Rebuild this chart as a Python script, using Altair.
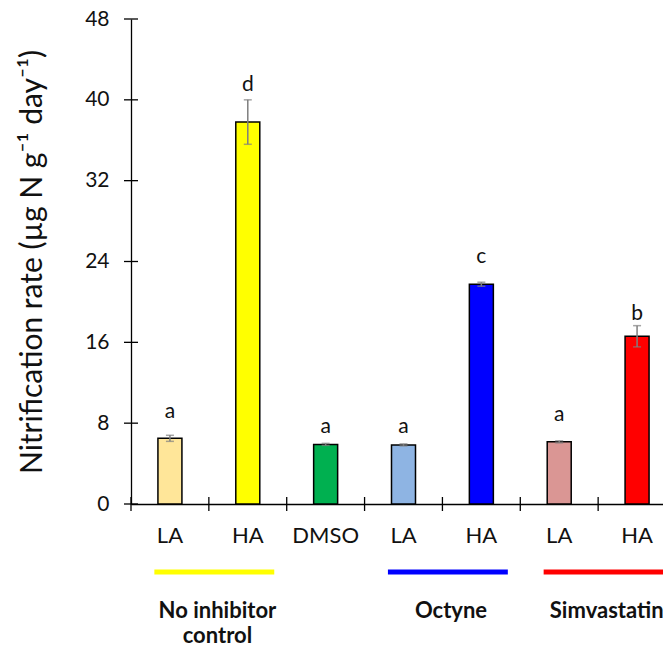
import altair as alt
import pandas as pd

# ---- data ----
categories = ["1 LA", "2 HA", "3 DMSO", "4 LA", "5 HA", "6 LA", "7 HA"]
means = [6.5, 37.8, 5.9, 5.85, 21.75, 6.15, 16.6]
errors = [0.3, 2.2, 0.1, 0.1, 0.2, 0.1, 1.05]
letters = ["a", "d", "a", "a", "c", "a", "b"]
letter_pos = [9.1, 41.5, 7.65, 7.65, 24.4, 8.8, 18.8]
bar_colors = ["#FFE699", "#FFFF00", "#00B050", "#8EB4E3", "#0000FF", "#DA9694", "#FF0000"]

groups = ["No inhibitor\ncontrol", "Octyne", "Simvastatin"]
group_start = ["1 LA", "4 LA", "6 LA"]
group_end = ["2 HA", "5 HA", "7 HA"]
group_colors = ["#FFFF00", "#0000FF", "#FF0000"]

y_ticks = [0, 8, 16, 24, 32, 40, 48]

# ---- tables ----
df = pd.DataFrame({
    "cat": categories,
    "mean": means,
    "lo": [m - e for m, e in zip(means, errors)],
    "hi": [m + e for m, e in zip(means, errors)],
    "letter": letters,
    "lpos": letter_pos,
})
gdf = pd.DataFrame({"group": groups, "start": group_start, "end": group_end, "gcolor": group_colors})
tdf = pd.DataFrame({"v": y_ticks})

FONT = "Lato"
W, H = 532, 485

xscale = alt.Scale(domain=categories, range=[0, 545], paddingInner=0, paddingOuter=0)
yscale = alt.Scale(domain=[0, 48], nice=False, zero=True)

x_axis = alt.Axis(
    title=None, labelExpr="substring(datum.value, 2)", labelAngle=0,
    ticks=False, tickSize=0, labelPadding=21, labelFontSize=22, labelFont=FONT,
    labelColor="#111", domainColor="#000", domainWidth=1.3, grid=False,
)
y_axis = alt.Axis(
    values=y_ticks, ticks=False, tickSize=0, labelPadding=22, labelFontSize=21,
    labelFont=FONT, labelColor="#111", domainColor="#000", domainWidth=1.3, grid=False,
    title="Nitrification rate (µg N g⁻¹ day⁻¹)", titleFont=FONT, titleFontSize=30,
    titleFontWeight="normal", titleColor="#111", titleAngle=-90, titleX=-99, titleY=H / 2,
    titleBaseline="middle", titleAlign="center",
)

x_enc = alt.X("cat:N", scale=xscale, axis=x_axis)
base = alt.Chart(df)

bars = base.mark_bar(size=24, stroke="black", strokeWidth=1.5).encode(
    x=x_enc,
    y=alt.Y("mean:Q", scale=yscale, axis=y_axis),
    fill=alt.Color("cat:N", scale=alt.Scale(domain=categories, range=bar_colors), legend=None),
)
err = base.mark_rule(color="#7f7f7f", strokeWidth=1.5).encode(
    x=x_enc, y=alt.Y("lo:Q", scale=yscale, axis=y_axis), y2="hi:Q"
)
cap_lo = base.mark_tick(size=8, thickness=1.5, color="#7f7f7f").encode(
    x=x_enc, y=alt.Y("lo:Q", scale=yscale, axis=y_axis)
)
cap_hi = base.mark_tick(size=8, thickness=1.5, color="#7f7f7f").encode(
    x=x_enc, y=alt.Y("hi:Q", scale=yscale, axis=y_axis)
)
lett = base.mark_text(font=FONT, fontSize=21, color="#111", baseline="middle").encode(
    x=x_enc, y=alt.Y("lpos:Q", scale=yscale, axis=y_axis), text="letter:N"
)
# crossing ticks
xticks = base.mark_rule(color="black", strokeWidth=1.3).encode(
    x=alt.X("cat:N", scale=xscale, axis=x_axis, bandPosition=0),
    y=alt.value(H - 7), y2=alt.value(H + 7),
)
yticks = alt.Chart(tdf).mark_rule(color="black", strokeWidth=1.3).encode(
    y=alt.Y("v:Q", scale=yscale, axis=y_axis), x=alt.value(-7), x2=alt.value(7)
)
glines = alt.Chart(gdf).mark_rule(strokeWidth=5).encode(
    x=alt.X("start:N", scale=xscale, axis=x_axis, bandPosition=0.3),
    x2=alt.X2("end:N", bandPosition=0.84),
    y=alt.value(553),
    color=alt.Color("gcolor:N", scale=None, legend=None),
)
gtext = alt.Chart(gdf).mark_text(
    font=FONT, fontSize=22, fontWeight="bold", color="#111", baseline="middle",
    lineBreak="\n", lineHeight=25,
).encode(
    x=alt.X("end:N", scale=xscale, axis=x_axis, bandPosition=0.11),
    y=alt.value(592),
    text="group:N",
)

chart = alt.layer(bars, err, cap_lo, cap_hi, lett, xticks, yticks, glines, gtext).properties(
    width=W, height=H,
    autosize=alt.AutoSizeParams(type="none"),
    padding={"left": 123, "top": 11, "right": 0, "bottom": 143},
    background="white",
).configure_view(stroke=None)

chart.save("out.html", embed_options={"renderer": "svg", "actions": False})
